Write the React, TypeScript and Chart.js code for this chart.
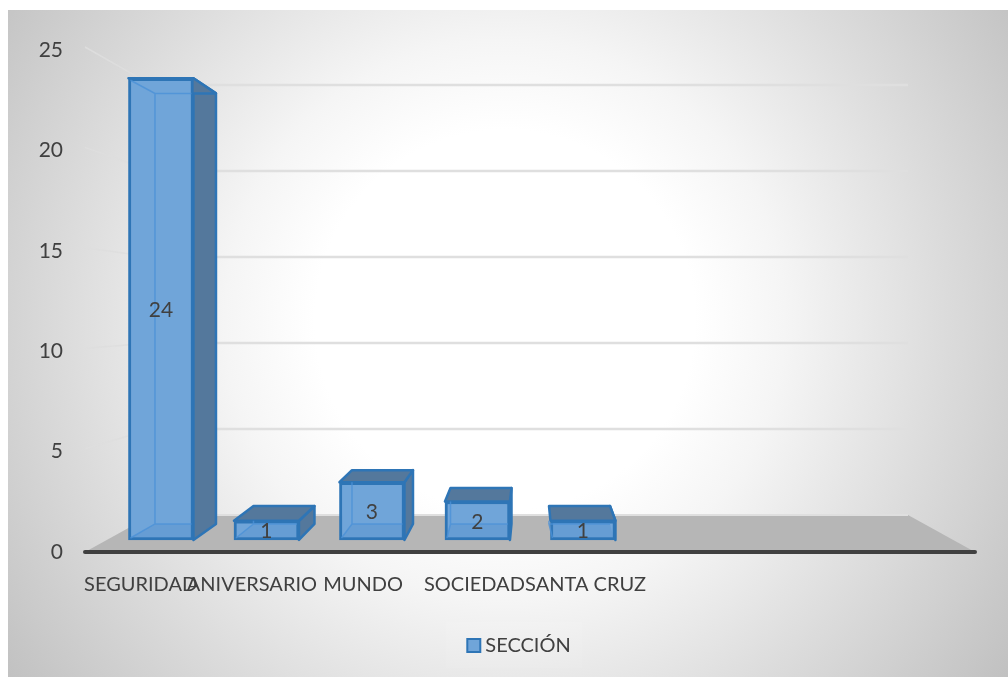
import React, { useEffect, useRef } from "react";
import { Chart, registerables } from "chart.js";

Chart.register(...registerables);

const categories = ["SEGURIDAD", "ANIVERSARIO", "MUNDO", "SOCIEDAD", "SANTA CRUZ", "", "", ""];
const seccionValues = [24, 1, 3, 2, 1];
const seriesName = "SECCIÓN";
const yMax = 25;
const yStep = 5;
const gridValues = [0, 5, 10, 15, 20, 25];

const FONT = "Lato, Carlito, 'Open Sans', sans-serif";
const TEXT = "#404040";

const depthPlugin = {
  id: "depth",
  beforeDraw(chart: any) {
    const { ctx, width, height } = chart;
    ctx.save();
    ctx.fillStyle = "#ffffff";
    ctx.fillRect(0, 0, width, height);
    const g = ctx.createRadialGradient(505, 320, 190, 505, 320, 640);
    g.addColorStop(0, "#ffffff");
    g.addColorStop(0.2, "#f5f5f5");
    g.addColorStop(0.55, "#dcdcdc");
    g.addColorStop(1, "#bdbdbd");
    ctx.fillStyle = g;
    ctx.fillRect(8, 10, width - 8, height - 10);
    ctx.fillStyle = "rgba(255,255,255,0.08)";
    ctx.fillRect(446, 622, 136, 46);
    ctx.restore();
  },
  beforeDatasetsDraw(chart: any) {
    const { ctx, scales, data } = chart;
    const { y, yBar, yBack, yDepth, xBar, xBack, x } = scales;
    const left = x.left, right = x.right, bottomY = y.getPixelForValue(0);
    const backLeft = left + 67, backRight = right - 67;
    ctx.save();
    // floor
    ctx.fillStyle = "#b6b6b6";
    ctx.beginPath();
    ctx.moveTo(left, bottomY);
    ctx.lineTo(backLeft, yBack.getPixelForValue(0));
    ctx.lineTo(backRight, yBack.getPixelForValue(0));
    ctx.lineTo(right, bottomY);
    ctx.closePath();
    ctx.fill();
    // gridlines: side wall + back wall
    ctx.lineCap = "butt";
    for (const v of gridValues) {
      const by = yBack.getPixelForValue(v);
      if (v > 0) {
        ctx.strokeStyle = "rgba(222,222,222,0.9)";
        ctx.lineWidth = 1.5;
        ctx.beginPath();
        ctx.moveTo(left, y.getPixelForValue(v) - 3);
        ctx.lineTo(backLeft, by);
        ctx.stroke();
      }
      ctx.strokeStyle = "#dfdfdf";
      ctx.lineWidth = v > 0 ? 2.5 : 2;
      ctx.beginPath();
      ctx.moveTo(backLeft, by);
      ctx.lineTo(backRight, by);
      ctx.stroke();
    }
    // axis line
    ctx.strokeStyle = TEXT;
    ctx.lineWidth = 4;
    ctx.lineCap = "round";
    ctx.beginPath();
    ctx.moveTo(left, bottomY);
    ctx.lineTo(right, bottomY);
    ctx.stroke();
    // dark faces of each bar
    const vals = data.datasets[0].data;
    vals.forEach((d: any) => {
      const fx = xBar.getPixelForValue(d.x), bx = xBack.getPixelForValue(d.x);
      const fl = fx - 32.5, fr = fx + 32.5, bl = bx - 30.5, br = bx + 30.5;
      const ft = yBar.getPixelForValue(d.y), fb = yBar.getPixelForValue(0);
      const bt = yDepth.getPixelForValue(d.y), bb = yDepth.getPixelForValue(0);
      ctx.lineJoin = "round";
      ctx.lineCap = "round";
      ctx.fillStyle = "#54789c";
      ctx.strokeStyle = "#2e75b6";
      ctx.lineWidth = 2.5;
      ctx.beginPath();
      ctx.moveTo(fr, ft);
      ctx.lineTo(br, bt);
      ctx.lineTo(br, bb);
      ctx.lineTo(fr, fb);
      ctx.closePath();
      ctx.fill();
      ctx.stroke();
      ctx.beginPath();
      ctx.moveTo(fl, ft);
      ctx.lineTo(bl, bt);
      ctx.lineTo(br, bt);
      ctx.lineTo(fr, ft);
      ctx.closePath();
      ctx.fill();
      ctx.stroke();
    });
    ctx.restore();
  },
  afterDatasetsDraw(chart: any) {
    const { ctx, scales, data } = chart;
    const { yBar, yDepth, xBar, xBack } = scales;
    ctx.save();
    const vals = data.datasets[0].data;
    vals.forEach((d: any) => {
      const fx = xBar.getPixelForValue(d.x), bx = xBack.getPixelForValue(d.x);
      const fl = fx - 32.5, fr = fx + 32.5, bl = bx - 30.5, br = bx + 30.5;
      const ft = yBar.getPixelForValue(d.y), fb = yBar.getPixelForValue(0);
      const bt = yDepth.getPixelForValue(d.y), bb = yDepth.getPixelForValue(0);
      const tall = bt > ft;
      const clampTop = Math.max(bt, ft);
      // floor of the box, seen through the front face
      ctx.fillStyle = "rgba(70,130,195,0.22)";
      ctx.beginPath();
      ctx.moveTo(fl + 2, fb - 2);
      ctx.lineTo(bl, bb);
      ctx.lineTo(Math.min(br, fr - 2), bb);
      ctx.lineTo(fr - 2, fb - 2);
      ctx.closePath();
      ctx.fill();
      // inner edges
      ctx.strokeStyle = "rgba(75,145,215,0.8)";
      ctx.lineWidth = 1.5;
      ctx.beginPath();
      ctx.moveTo(bl, clampTop);
      ctx.lineTo(bl, bb);
      ctx.moveTo(fl + 2, fb - 2);
      ctx.lineTo(bl, bb);
      ctx.lineTo(Math.min(br, fr - 2), bb);
      if (tall) {
        ctx.moveTo(fl + 2, ft + 2);
        ctx.lineTo(bl, bt);
        ctx.lineTo(fr - 2, bt);
      }
      ctx.stroke();
      // value label
      ctx.fillStyle = TEXT;
      ctx.font = `21px ${FONT}`;
      ctx.textAlign = "center";
      ctx.textBaseline = "middle";
      ctx.fillText(String(d.y), fx, yBar.getPixelForValue(d.y / 2) + 1);
    });
    // legend swatch
    const hit = chart.legend.legendHitBoxes[0];
    const sy = hit.top + hit.height / 2 - 7;
    ctx.fillStyle = "#70a5d9";
    ctx.strokeStyle = "#2e75b6";
    ctx.lineWidth = 2;
    ctx.fillRect(hit.left - 8, sy, 13, 13);
    ctx.strokeRect(hit.left - 8, sy, 13, 13);
    ctx.restore();
  },
};

const hiddenAxis = (axis: string, min: number, max: number) => ({
  type: "linear",
  axis,
  display: false,
  min,
  max,
  offset: false,
});

export default function App() {
  const ref = useRef<HTMLCanvasElement>(null);
  useEffect(() => {
    document.body.style.margin = "0";
    const chart = new Chart(ref.current as HTMLCanvasElement, {
      type: "bar",
      plugins: [depthPlugin],
      data: {
        labels: categories,
        datasets: [
          {
            label: seriesName,
            data: seccionValues.map((v, i) => ({ x: i, y: v })),
            xAxisID: "xBar",
            yAxisID: "yBar",
            backgroundColor: "#70a5d9",
            borderColor: "#2e75b6",
            borderWidth: 3,
            borderSkipped: false,
            barThickness: 65,
          },
        ],
      },
      options: {
        responsive: false,
        animation: false,
        layout: { padding: { top: 50, bottom: 11, left: 38, right: 0 } },
        plugins: {
          tooltip: { enabled: false },
          legend: {
            position: "bottom",
            labels: {
              boxWidth: 0,
              boxHeight: 0,
              padding: 21,
              color: TEXT,
              font: { family: FONT, size: 20 },
              generateLabels: (c: any) => [
                {
                  text: c.data.datasets[0].label,
                  fillStyle: "rgba(0,0,0,0)",
                  strokeStyle: "rgba(0,0,0,0)",
                  lineWidth: 0,
                  datasetIndex: 0,
                  fontColor: TEXT,
                },
              ],
            },
          },
        },
        scales: {
          x: {
            type: "category",
            labels: categories,
            offset: true,
            grid: { display: false, drawTicks: false },
            border: { display: false },
            ticks: {
              autoSkip: false,
              maxRotation: 0,
              minRotation: 0,
              padding: 21,
              color: TEXT,
              font: { family: FONT, size: 20 },
            },
            afterFit: (s: any) => {
              s.height = 63;
            },
          },
          y: {
            type: "linear",
            min: 0,
            max: yMax,
            grid: { display: false, drawTicks: false },
            border: { display: false },
            ticks: {
              stepSize: yStep,
              padding: 22,
              color: TEXT,
              font: { family: FONT, size: 21 },
            },
            afterFit: (s: any) => {
              s.width = 47;
            },
          },
          yRightGutter: {
            type: "linear",
            axis: "y",
            position: "right",
            min: 0,
            max: yMax,
            grid: { display: false, drawTicks: false },
            border: { display: false },
            ticks: { display: false },
            afterFit: (s: any) => {
              s.width = 33;
            },
          },
          xBar: hiddenAxis("x", -0.72, 7.716),
          xBack: hiddenAxis("x", -1.02, 8.015),
          yBar: hiddenAxis("y", -0.625, 25.47),
          yBack: hiddenAxis("y", -2.156, 27.04),
          yDepth: hiddenAxis("y", -1.564, 26.42),
        },
      } as any,
    });
    return () => chart.destroy();
  }, []);
  return <canvas ref={ref} width={1008} height={677} style={{ display: "block" }} />;
}
